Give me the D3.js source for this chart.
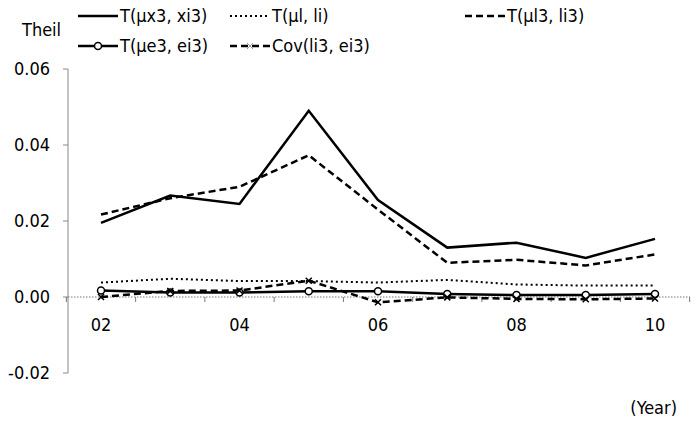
<!DOCTYPE html>
<html><head><meta charset="utf-8">
<script src="https://cdn.jsdelivr.net/npm/d3@7"></script>
<style>body{margin:0;background:#fff}text{font-family:"Liberation Sans Narrow","DejaVu Sans Condensed","Open Sans",sans-serif;fill:#000}</style>
</head><body><svg id="chart" width="700" height="421"></svg>
<script>
const years = [2002, 2003, 2004, 2005, 2006, 2007, 2008, 2009, 2010];
const tx3 = [0.0195, 0.0267, 0.0245, 0.0490, 0.0255, 0.0130, 0.0143, 0.0103, 0.0153];
const tl = [0.0038, 0.0048, 0.0042, 0.0042, 0.0038, 0.0045, 0.0033, 0.0030, 0.0030];
const tl3 = [0.0217, 0.0260, 0.0290, 0.0373, 0.0230, 0.0090, 0.0098, 0.0083, 0.0112];
const te3 = [0.0017, 0.0012, 0.0012, 0.0015, 0.0015, 0.0008, 0.0005, 0.0005, 0.0008];
const cov = [0.0000, 0.0016, 0.0017, 0.0043, -0.0014, -0.0001, -0.0005, -0.0006, -0.0004];
const yTicks = [-0.02, 0, 0.02, 0.04, 0.06];

const svg = d3.select("#chart");
const x = d3.scaleLinear().domain([2002, 2010]).range([101, 655]);
const y = d3.scaleLinear().domain([-0.02, 0.06]).range([373, 69]);

// y axis
svg.append("line").attr("x1", 68).attr("x2", 68).attr("y1", y(0.06)).attr("y2", y(-0.02)).attr("stroke", "#888");
yTicks.forEach(t => {
  svg.append("line").attr("x1", 63).attr("x2", 68).attr("y1", y(t)).attr("y2", y(t)).attr("stroke", "#888");
  svg.append("text").attr("x", 50).attr("y", y(t) + 6).attr("text-anchor", "end").style("font-size", "18px").text(t.toFixed(2));
});
// zero line
svg.append("line").attr("x1", 68).attr("x2", 690).attr("y1", y(0)).attr("y2", y(0))
  .attr("stroke", "#777").attr("stroke-dasharray", "1.5,1.5");
d3.range(2001.5, 2011, 1).forEach(t => {
  svg.append("line").attr("x1", x(t)).attr("x2", x(t)).attr("y1", y(0)).attr("y2", y(0) + 5).attr("stroke", "#777");
});
years.filter((d, i) => i % 2 === 0).forEach(t => {
  svg.append("text").attr("x", x(t)).attr("y", 331).attr("text-anchor", "middle").style("font-size", "18px")
    .text(String(t % 100).padStart(2, "0"));
});
svg.append("text").attr("x", 22).attr("y", 36).style("font-size", "18px").text("Theil");
svg.append("text").attr("x", 677).attr("y", 414).attr("text-anchor", "end").style("font-size", "18px").text("(Year)");

const line = d3.line().x((d, i) => x(years[i])).y(d => y(d));
const series = [
  {name: "T(\u03bcx3, xi3)", v: tx3, w: 2.5, dash: null, lx: 78, ly: 16},
  {name: "T(\u03bcl, li)", v: tl, w: 2, dash: "2,3", lx: 230, ly: 16},
  {name: "T(\u03bcl3, li3)", v: tl3, w: 2.5, dash: "7,4", lx: 465, ly: 16},
  {name: "T(\u03bce3, ei3)", v: te3, w: 2.5, dash: null, lx: 78, ly: 46, mark: "o"},
  {name: "Cov(li3, ei3)", v: cov, w: 2.5, dash: "7,4", lx: 230, ly: 46, mark: "x"}
];
series.forEach(s => {
  svg.append("path").attr("d", line(s.v)).attr("fill", "none").attr("stroke", "#000")
    .attr("stroke-width", s.w).attr("stroke-dasharray", s.dash);
  const lg = svg.append("g");
  lg.append("line").attr("x1", s.lx).attr("x2", s.lx + 40).attr("y1", s.ly).attr("y2", s.ly)
    .attr("stroke", "#000").attr("stroke-width", s.w).attr("stroke-dasharray", s.dash);
  lg.append("text").attr("x", s.lx + 42).attr("y", s.ly + 6).style("font-size", "18px").text(s.name);
  const pts = s.v.map((d, i) => [x(years[i]), y(d)]);
  if (s.mark === "o") pts.concat([[s.lx + 20, s.ly]]).forEach(p => {
    svg.append("circle").attr("cx", p[0]).attr("cy", p[1]).attr("r", 3.5).attr("fill", "#fff").attr("stroke", "#000").attr("stroke-width", 1.5);
  });
  if (s.mark === "x") pts.forEach(p => {
    svg.append("path").attr("d", `M${p[0]-3},${p[1]-3}L${p[0]+3},${p[1]+3}M${p[0]-3},${p[1]+3}L${p[0]+3},${p[1]-3}`)
      .attr("stroke", "#000").attr("stroke-width", 1.5);
  });
  if (s.mark === "x") svg.append("path").attr("d", `M${s.lx+17},${s.ly-3}L${s.lx+23},${s.ly+3}M${s.lx+17},${s.ly+3}L${s.lx+23},${s.ly-3}`)
    .attr("stroke", "#999").attr("stroke-width", 1);
});
</script></body></html>
